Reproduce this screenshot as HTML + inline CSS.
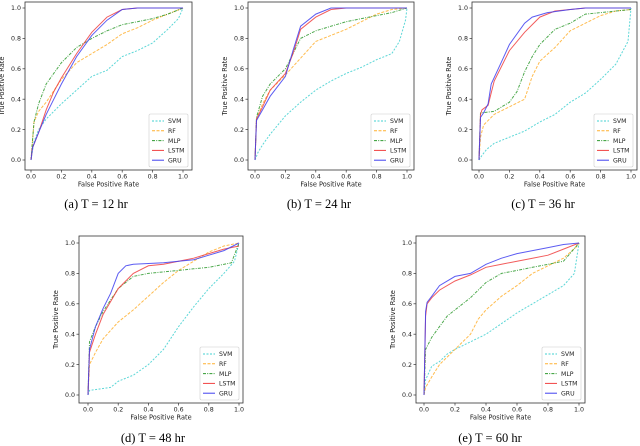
<!DOCTYPE html>
<html><head><meta charset="utf-8"><style>
body{margin:0;background:#fff}
svg{display:block}
text{font-family:"DejaVu Sans","Liberation Sans",sans-serif;fill:#222}
.cap{font-family:"Liberation Serif",serif;font-size:12.5px;fill:#000}
</style></head><body>
<svg id="fig" width="640" height="446" viewBox="0 0 640 446" xmlns="http://www.w3.org/2000/svg"></svg>
<script>
const seriesNames = ["SVM","RF","MLP","LSTM","GRU"];
const tickLabels = ["0.0","0.2","0.4","0.6","0.8","1.0"];
const tickValues = [0,0.2,0.4,0.6,0.8,1.0];
const captions = ["(a) T = 12 hr","(b) T = 24 hr","(c) T = 36 hr","(d) T = 48 hr","(e) T = 60 hr"];
const rocA = [
 [[0,0],[0.02,0.12],[0.05,0.2],[0.1,0.27],[0.2,0.37],[0.3,0.46],[0.4,0.55],[0.5,0.59],[0.6,0.68],[0.7,0.72],[0.8,0.77],[0.9,0.86],[0.97,0.93],[1,1]],
 [[0,0],[0.02,0.25],[0.05,0.32],[0.1,0.38],[0.2,0.53],[0.3,0.64],[0.4,0.7],[0.5,0.76],[0.6,0.83],[0.7,0.87],[0.8,0.92],[0.9,0.96],[1,1]],
 [[0,0],[0.02,0.25],[0.05,0.37],[0.1,0.5],[0.2,0.64],[0.3,0.74],[0.4,0.8],[0.5,0.85],[0.6,0.89],[0.7,0.91],[0.8,0.93],[0.9,0.96],[1,1]],
 [[0,0],[0.01,0.08],[0.05,0.18],[0.1,0.33],[0.15,0.45],[0.2,0.54],[0.3,0.7],[0.4,0.84],[0.5,0.94],[0.6,0.99],[0.7,1],[1,1]],
 [[0,0],[0.01,0.08],[0.05,0.18],[0.1,0.3],[0.15,0.4],[0.2,0.5],[0.3,0.68],[0.4,0.82],[0.5,0.92],[0.6,0.99],[0.7,1],[1,1]]
];
const rocB = [
 [[0,0],[0.02,0.05],[0.05,0.1],[0.1,0.17],[0.2,0.29],[0.3,0.38],[0.4,0.46],[0.5,0.52],[0.6,0.57],[0.7,0.61],[0.8,0.66],[0.9,0.7],[0.95,0.78],[0.99,0.92],[1,1]],
 [[0,0],[0.01,0.27],[0.05,0.37],[0.1,0.46],[0.2,0.56],[0.3,0.67],[0.4,0.78],[0.5,0.82],[0.6,0.86],[0.7,0.91],[0.8,0.96],[0.9,0.99],[1,1]],
 [[0,0],[0.01,0.28],[0.05,0.42],[0.1,0.5],[0.2,0.6],[0.3,0.8],[0.4,0.85],[0.5,0.88],[0.6,0.91],[0.7,0.93],[0.8,0.95],[0.9,0.97],[1,1]],
 [[0,0],[0.01,0.27],[0.05,0.35],[0.1,0.46],[0.2,0.57],[0.25,0.7],[0.3,0.86],[0.4,0.94],[0.5,0.99],[0.6,1],[1,1]],
 [[0,0],[0.01,0.26],[0.05,0.33],[0.1,0.42],[0.2,0.55],[0.25,0.72],[0.3,0.88],[0.4,0.96],[0.5,1],[1,1]]
];
const rocC = [
 [[0,0],[0.02,0.03],[0.05,0.07],[0.1,0.11],[0.2,0.15],[0.3,0.19],[0.4,0.25],[0.5,0.3],[0.6,0.38],[0.7,0.44],[0.8,0.53],[0.9,0.63],[0.98,0.78],[1,1]],
 [[0,0],[0.01,0.15],[0.03,0.23],[0.1,0.3],[0.2,0.35],[0.3,0.4],[0.35,0.55],[0.4,0.65],[0.5,0.74],[0.6,0.85],[0.7,0.9],[0.8,0.95],[0.9,0.98],[1,0.99]],
 [[0,0],[0.01,0.31],[0.1,0.32],[0.2,0.38],[0.25,0.45],[0.3,0.58],[0.35,0.68],[0.4,0.76],[0.5,0.86],[0.6,0.9],[0.7,0.96],[0.8,0.97],[1,0.99]],
 [[0,0],[0.01,0.3],[0.02,0.33],[0.06,0.36],[0.1,0.52],[0.2,0.72],[0.3,0.84],[0.4,0.94],[0.5,0.98],[0.7,1],[1,1]],
 [[0,0],[0.01,0.28],[0.03,0.31],[0.06,0.37],[0.08,0.5],[0.15,0.65],[0.2,0.76],[0.3,0.9],[0.35,0.94],[0.45,0.97],[0.6,0.99],[0.7,1],[1,1]]
];
const rocD = [
 [[0,0],[0.01,0.03],[0.15,0.05],[0.2,0.09],[0.3,0.13],[0.4,0.2],[0.5,0.3],[0.6,0.45],[0.7,0.58],[0.8,0.7],[0.9,0.8],[0.97,0.88],[1,1]],
 [[0,0],[0.01,0.2],[0.05,0.28],[0.1,0.37],[0.2,0.48],[0.3,0.56],[0.4,0.65],[0.5,0.74],[0.6,0.82],[0.7,0.88],[0.8,0.94],[0.9,0.98],[1,1]],
 [[0,0],[0.01,0.35],[0.05,0.45],[0.1,0.55],[0.2,0.7],[0.3,0.78],[0.4,0.8],[0.5,0.81],[0.6,0.82],[0.7,0.83],[0.8,0.84],[0.95,0.87],[1,1]],
 [[0,0],[0.01,0.28],[0.05,0.4],[0.1,0.53],[0.2,0.7],[0.3,0.8],[0.4,0.85],[0.5,0.86],[0.6,0.88],[0.7,0.9],[0.8,0.93],[0.9,0.96],[1,0.98]],
 [[0,0],[0.01,0.3],[0.05,0.45],[0.1,0.57],[0.15,0.67],[0.2,0.8],[0.25,0.85],[0.3,0.86],[0.5,0.87],[0.6,0.88],[0.7,0.89],[0.8,0.92],[0.9,0.95],[1,1]]
];
const rocE = [
 [[0,0],[0.01,0.1],[0.05,0.19],[0.1,0.22],[0.15,0.27],[0.2,0.3],[0.3,0.35],[0.4,0.4],[0.5,0.47],[0.6,0.54],[0.7,0.6],[0.8,0.66],[0.9,0.72],[0.97,0.8],[1,1]],
 [[0,0],[0.01,0.05],[0.05,0.12],[0.1,0.2],[0.2,0.3],[0.3,0.4],[0.35,0.5],[0.4,0.56],[0.5,0.65],[0.6,0.72],[0.7,0.8],[0.8,0.85],[0.9,0.9],[1,0.99]],
 [[0,0],[0.01,0.3],[0.05,0.38],[0.1,0.45],[0.15,0.52],[0.2,0.56],[0.3,0.64],[0.4,0.74],[0.5,0.8],[0.6,0.82],[0.7,0.84],[0.8,0.86],[0.9,0.88],[1,1]],
 [[0,0],[0.01,0.52],[0.02,0.6],[0.05,0.64],[0.1,0.69],[0.2,0.75],[0.3,0.79],[0.4,0.84],[0.5,0.86],[0.6,0.88],[0.7,0.9],[0.8,0.92],[0.9,0.96],[1,1]],
 [[0,0],[0.01,0.55],[0.02,0.61],[0.05,0.65],[0.1,0.72],[0.2,0.78],[0.3,0.8],[0.4,0.86],[0.5,0.9],[0.6,0.93],[0.7,0.95],[0.8,0.97],[0.9,0.99],[1,1]]
];
const allRoc = [rocA,rocB,rocC,rocD,rocE];

const styles = [
 {c:"#40d0d0",d:"2,1.5"},{c:"#ffb030",d:"3,1.5"},{c:"#2e9a2e",d:"3,1.2,1,1.2"},{c:"#f04040",d:""},{c:"#4040f0",d:""}
];
const layout = [
 {bl:25,bt:2,br:192,bb:170,x0:31,x1:183,y1:8,y0:160,cx:96,cy:208},
 {bl:248,bt:2,br:414,bb:170,x0:255,x1:407,y1:8,y0:160,cx:319,cy:208},
 {bl:472,bt:2,br:637,bb:170,x0:479,x1:631,y1:8,y0:160,cx:543,cy:208},
 {bl:79,bt:236,br:243,bb:403,x0:88,x1:239,y1:243,y0:395,cx:153,cy:442},
 {bl:416,bt:236,br:585,bb:403,x0:424,x1:579,y1:243,y0:395,cx:490,cy:442}
];
const NS="http://www.w3.org/2000/svg";
const svg=document.getElementById('fig');
function mk(tag,attrs,parent){const e=document.createElementNS(NS,tag);for(const k in attrs)e.setAttribute(k,attrs[k]);(parent||svg).appendChild(e);return e;}
layout.forEach((L,pi)=>{
 const g=mk('g',{});
 
 
 const sx=v=>L.x0+v*(L.x1-L.x0), sy=v=>L.y0-v*(L.y0-L.y1);
 allRoc[pi].forEach((pts,si)=>{
  const p=mk('polyline',{points:pts.map(q=>sx(q[0]).toFixed(1)+','+sy(q[1]).toFixed(1)).join(' '),fill:'none',stroke:styles[si].c,'stroke-width':1,'stroke-opacity':0.85,'stroke-dasharray':styles[si].d},g);
  
  
 });
 const box=mk('rect',{x:L.bl,y:L.bt,width:L.br-L.bl,height:L.bb-L.bt,fill:'none',stroke:'#333','stroke-width':0.8},g);
 
 
 tickValues.forEach((v,i)=>{
  mk('line',{x1:sx(v),x2:sx(v),y1:L.bb,y2:L.bb+2.5,stroke:'#333','stroke-width':0.7},g);
  const tx=mk('text',{x:sx(v),y:L.bb+8.5,'font-size':6.3,'text-anchor':'middle'},g);tx.textContent=tickLabels[i];
  
  
  mk('line',{x1:L.bl-2.5,x2:L.bl,y1:sy(v),y2:sy(v),stroke:'#333','stroke-width':0.7},g);
  const ty=mk('text',{x:L.bl-4,y:sy(v)+2.2,'font-size':6.3,'text-anchor':'end'},g);ty.textContent=tickLabels[i];
  
  
 });
 const xl=mk('text',{x:(L.bl+L.br)/2,y:L.bb+16.5,'font-size':6.6,'text-anchor':'middle'},g);xl.textContent='False Positive Rate';
 
 
 const yx=L.bl-21, yy=(L.bt+L.bb)/2;
 const yl=mk('text',{x:yx,y:yy,'font-size':6.6,'text-anchor':'middle',transform:`rotate(-90 ${yx} ${yy})`},g);yl.textContent='True Positive Rate';
 
 
 const lw=39,lh=53,lx=L.br-lw-4,ly=L.bb-lh-3;
 const lg=mk('g',{},g);
 
 
 mk('rect',{x:lx,y:ly,width:lw,height:lh,fill:'#fff','fill-opacity':0.85,stroke:'#ccc','stroke-width':0.6,rx:1.5},lg);
 seriesNames.forEach((n,si)=>{
  const yy2=ly+7+si*9.8;
  mk('line',{x1:lx+3,x2:lx+15,y1:yy2,y2:yy2,stroke:styles[si].c,'stroke-width':1,'stroke-dasharray':styles[si].d},lg);
  const t=mk('text',{x:lx+19,y:yy2+2.2,'font-size':6.2},lg);t.textContent=n;
  
  
 });
 const cp=mk('text',{x:L.cx,y:L.cy,'text-anchor':'middle',class:'cap'},g);cp.textContent=captions[pi];
 
 
});
</script>
</body></html>
